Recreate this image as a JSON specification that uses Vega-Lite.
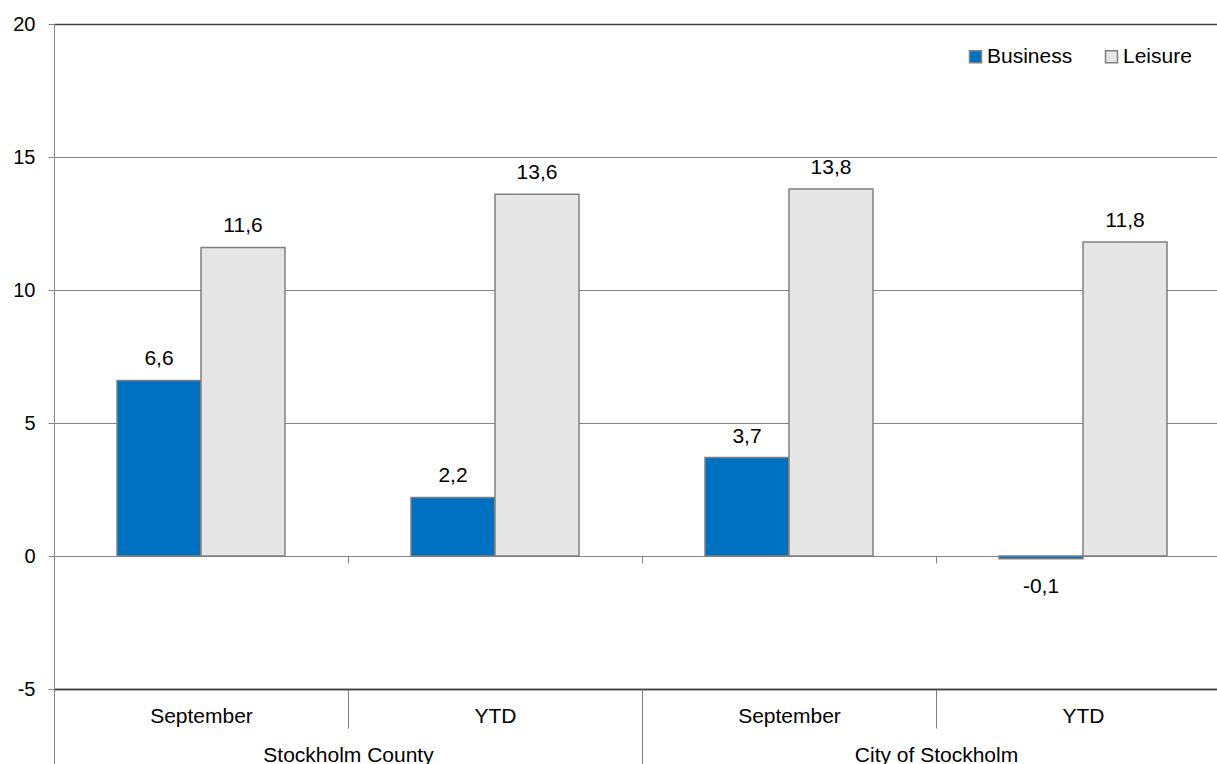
{
  "$schema": "https://vega.github.io/schema/vega-lite/v6.json",
  "width": 1176,
  "height": 665,
  "autosize": {"type": "none"},
  "padding": {"left": 54, "top": 24, "right": 0, "bottom": 75},
  "background": "white",
  "config": {
    "view": {"stroke": null},
    "font": "Liberation Sans",
    "axis": {"labelFont": "Liberation Sans", "labelColor": "#000000"},
    "legend": {
      "orient": "none",
      "legendX": 911,
      "legendY": 22,
      "padding": 0,
      "direction": "horizontal",
      "symbolType": "square",
      "symbolSize": 144,
      "symbolStrokeColor": "#808080",
      "symbolStrokeWidth": 1.5,
      "labelFont": "Liberation Sans",
      "labelFontSize": 21,
      "labelColor": "#000000",
      "labelOffset": 1,
      "columnPadding": 28
    }
  },
  "data": {
    "values": [
      {"region": "Stockholm County", "period": "September", "cat": "Stockholm County|September", "type": "Business", "value": 6.6, "label": "6,6"},
      {"region": "Stockholm County", "period": "September", "cat": "Stockholm County|September", "type": "Leisure", "value": 11.6, "label": "11,6"},
      {"region": "Stockholm County", "period": "YTD", "cat": "Stockholm County|YTD", "type": "Business", "value": 2.2, "label": "2,2"},
      {"region": "Stockholm County", "period": "YTD", "cat": "Stockholm County|YTD", "type": "Leisure", "value": 13.6, "label": "13,6"},
      {"region": "City of Stockholm", "period": "September", "cat": "City of Stockholm|September", "type": "Business", "value": 3.7, "label": "3,7"},
      {"region": "City of Stockholm", "period": "September", "cat": "City of Stockholm|September", "type": "Leisure", "value": 13.8, "label": "13,8"},
      {"region": "City of Stockholm", "period": "YTD", "cat": "City of Stockholm|YTD", "type": "Business", "value": -0.1, "label": "-0,1"},
      {"region": "City of Stockholm", "period": "YTD", "cat": "City of Stockholm|YTD", "type": "Leisure", "value": 11.8, "label": "11,8"}
    ]
  },
  "layer": [
    {
      "layer": [
        {
          "mark": {"type": "bar", "stroke": "#808080", "strokeWidth": 1.5},
          "encoding": {
            "x": {
              "field": "cat", "type": "nominal", "sort": null,
              "scale": {"domain": ["Stockholm County|September", "Stockholm County|YTD", "City of Stockholm|September", "City of Stockholm|YTD"], "paddingInner": 0, "paddingOuter": 0},
              "axis": {
                "title": null, "orient": "bottom", "labelAngle": 0,
                "labelExpr": "split(datum.value, '|')[1]",
                "labelFontSize": 21, "labelPadding": -23,
                "tickBand": "extent", "tickSize": 39, "tickColor": "#808080", "tickWidth": 1,
                "domainColor": "#404040", "domainWidth": 1.5
              }
            },
            "xOffset": {"field": "type", "type": "nominal", "scale": {"paddingInner": 0, "paddingOuter": 0.75}},
            "y": {
              "field": "value", "type": "quantitative",
              "scale": {"domain": [-5, 20], "nice": false, "zero": false},
              "axis": {
                "title": null, "values": [-5, 0, 5, 10, 15, 20],
                "labelExpr": "datum.value + ''",
                "labelFontSize": 20, "labelPadding": 13,
                "grid": true,
                "gridColor": {"condition": {"test": "datum.value == 20 || datum.value == -5", "value": "#404040"}, "value": "#868686"},
                "gridWidth": {"condition": {"test": "datum.value == 20 || datum.value == -5", "value": 1.5}, "value": 1},
                "tickSize": 6, "tickColor": "#868686", "domainColor": "#868686"
              }
            },
            "color": {
              "field": "type", "type": "nominal",
              "scale": {"domain": ["Business", "Leisure"], "range": ["#0070C0", "#E6E6E6"]},
              "legend": {"title": null}
            }
          }
        },
        {
          "transform": [{"filter": "datum.value >= 0"}],
          "mark": {"type": "text", "dy": -15, "fontSize": 21, "font": "Liberation Sans", "color": "#000000", "baseline": "alphabetic"},
          "encoding": {
            "x": {"field": "cat", "type": "nominal", "sort": null},
            "xOffset": {"field": "type", "type": "nominal"},
            "y": {"field": "value", "type": "quantitative"},
            "text": {"field": "label"}
          }
        },
        {
          "transform": [{"filter": "datum.value < 0"}],
          "mark": {"type": "text", "dy": 34, "fontSize": 21, "font": "Liberation Sans", "color": "#000000", "baseline": "alphabetic"},
          "encoding": {
            "x": {"field": "cat", "type": "nominal", "sort": null},
            "xOffset": {"field": "type", "type": "nominal"},
            "y": {"field": "value", "type": "quantitative"},
            "text": {"field": "label"}
          }
        }
      ]
    },
    {
      "mark": {"type": "rule", "opacity": 0},
      "encoding": {
        "x": {
          "field": "region", "type": "nominal", "sort": null,
          "scale": {"type": "band", "domain": ["Stockholm County", "City of Stockholm"], "paddingInner": 0, "paddingOuter": 0},
          "axis": {
            "title": null, "orient": "bottom", "labelAngle": 0,
            "labelFontSize": 21, "labelPadding": -20,
            "tickBand": "extent", "tickSize": 75, "tickColor": "#808080", "tickWidth": 1,
            "domain": false
          }
        }
      }
    },
    {
      "mark": {"type": "rule", "opacity": 0},
      "encoding": {
        "x": {
          "field": "cat", "type": "nominal", "sort": null,
          "scale": {"type": "band", "domain": ["Stockholm County|September", "Stockholm County|YTD", "City of Stockholm|September", "City of Stockholm|YTD"], "paddingInner": 0, "paddingOuter": 0},
          "axis": {
            "title": null, "orient": "bottom", "offset": -133,
            "labels": false, "domain": false,
            "tickBand": "extent", "tickSize": 7, "tickColor": "#808080", "tickWidth": 1
          }
        }
      }
    }
  ],
  "resolve": {"scale": {"x": "independent"}}
}
